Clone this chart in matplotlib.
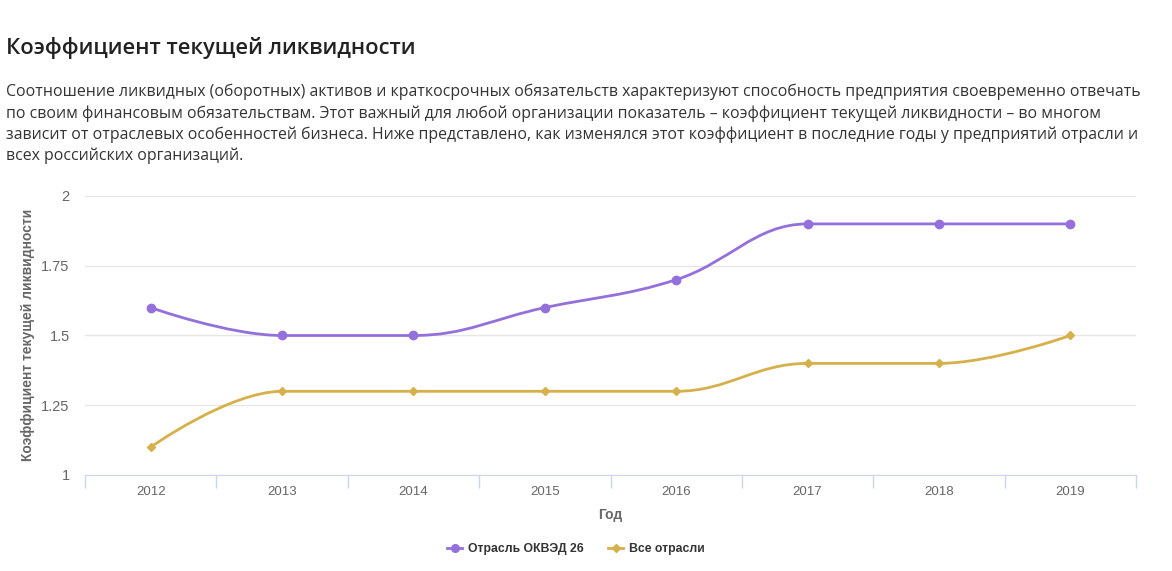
import numpy as np
import matplotlib.pyplot as plt
from matplotlib.path import Path
from matplotlib.patches import PathPatch
from matplotlib.lines import Line2D

years = ['2012', '2013', '2014', '2015', '2016', '2017', '2018', '2019']
industry = [1.6, 1.5, 1.5, 1.6, 1.7, 1.9, 1.9, 1.9]
all_sectors = [1.1, 1.3, 1.3, 1.3, 1.3, 1.4, 1.4, 1.5]

purple = '#9370db'
gold = '#d6b04a'


# highcharts-like spline: control points for each point
def spline_path(xs, ys):
    n = len(xs)
    smoothing = 1.5
    denom = smoothing + 1
    left = [None] * n
    right = [None] * n
    for i in range(1, n - 1):
        lx, ly = xs[i - 1], ys[i - 1]
        px, py = xs[i], ys[i]
        nx, ny = xs[i + 1], ys[i + 1]
        lcx = (smoothing * px + lx) / denom
        lcy = (smoothing * py + ly) / denom
        rcx = (smoothing * px + nx) / denom
        rcy = (smoothing * py + ny) / denom
        if rcx != lcx:
            corr = (rcy - lcy) * (rcx - px) / (rcx - lcx) + py - rcy
            lcy += corr
            rcy += corr
        if lcy > ly and lcy > py:
            lcy = max(ly, py)
            rcy = 2 * py - lcy
        elif lcy < ly and lcy < py:
            lcy = min(ly, py)
            rcy = 2 * py - lcy
        if rcy > ny and rcy > py:
            rcy = max(ny, py)
            lcy = 2 * py - rcy
        elif rcy < ny and rcy < py:
            rcy = min(ny, py)
            lcy = 2 * py - rcy
        left[i] = (lcx, lcy)
        right[i] = (rcx, rcy)
    verts = [(xs[0], ys[0])]
    codes = [Path.MOVETO]
    for i in range(1, n):
        c1 = right[i - 1] if right[i - 1] else (xs[i - 1], ys[i - 1])
        c2 = left[i] if left[i] else (xs[i], ys[i])
        verts += [c1, c2, (xs[i], ys[i])]
        codes += [Path.CURVE4] * 3
    return Path(verts, codes)


fig = plt.figure(figsize=(11.72, 5.71), dpi=100)
W, H = 1172, 571

fig.text(6 / W, 1 - 48 / H, 'Коэффициент текущей ликвидности', fontsize=15.8,
         family='Open Sans', weight='semibold', color='#222222', va='center')

para = ('Соотношение ликвидных (оборотных) активов и краткосрочных обязательств характеризуют способность предприятия своевременно отвечать\n'
        'по своим финансовым обязательствам. Этот важный для любой организации показатель – коэффициент текущей ликвидности – во многом\n'
        'зависит от отраслевых особенностей бизнеса. Ниже представлено, как изменялся этот коэффициент в последние годы у предприятий отрасли и\n'
        'всех российских организаций.')
fig.text(6 / W, 1 - 84 / H, para, fontsize=11.4, family='Open Sans', color='#333333',
         va='top', linespacing=1.39)

ax = fig.add_axes([85 / W, 96 / H, (1136 - 85) / W, 279 / H])
x = np.arange(len(years))

for vals, col, mk, ms in [(industry, purple, 'o', 6), (all_sectors, gold, 'D', 4.3)]:
    ax.add_patch(PathPatch(spline_path(list(x), vals), fill=False, edgecolor=col,
                           lw=2.0, capstyle='round', joinstyle='round', zorder=3))
    ax.plot(x, vals, linestyle='none', marker=mk, ms=ms, color=col, zorder=4)

ax.set_xlim(-0.5, len(years) - 0.5)
ax.set_ylim(1, 2)
ax.set_yticks([1, 1.25, 1.5, 1.75, 2])
ax.set_yticklabels(['1', '1.25', '1.5', '1.75', '2'])
ax.set_xticks(x)
ax.set_xticklabels(years)
ax.set_xticks(np.arange(-0.5, len(years), 1), minor=True)
ax.tick_params(axis='x', which='major', length=0, pad=8, labelsize=9.5, labelcolor='#666666')
ax.tick_params(axis='x', which='minor', length=9, color='#ccd6eb', width=1)
ax.tick_params(axis='y', length=0, pad=11, labelsize=10.5, labelcolor='#666666')
for lab in ax.get_xticklabels() + ax.get_yticklabels():
    lab.set_family('Liberation Sans')

ax.grid(axis='y', color='#e6e6e6', lw=1)
ax.set_axisbelow(True)
for s in ['top', 'right', 'left']:
    ax.spines[s].set_visible(False)
ax.spines['bottom'].set_color('#ccd6eb')
ax.spines['bottom'].set_zorder(2)

ax.set_xlabel('Год', fontsize=10, weight='bold', color='#666666', family='Liberation Sans', labelpad=7)
fig.text(28 / W, 1 - 335 / H, 'Коэффициент текущей ликвидности', rotation=90, fontsize=10,
         weight='bold', color='#666666', family='Liberation Sans', ha='center', va='center')

handles = [Line2D([], [], color=purple, lw=2.0, marker='o', ms=5.5),
           Line2D([], [], color=gold, lw=2.0, marker='D', ms=4.3)]
leg = fig.legend(handles, ['Отрасль ОКВЭД 26', 'Все отрасли'], loc='center',
                 bbox_to_anchor=(576 / W, 1 - 549 / H), ncol=2, frameon=False,
                 handlelength=1.2, columnspacing=2.0, handletextpad=0.5,
                 prop={'family': 'Liberation Sans', 'weight': 'bold', 'size': 8.8})
for t in leg.get_texts():
    t.set_color('#333333')

fig.savefig('out.png', dpi=100)
